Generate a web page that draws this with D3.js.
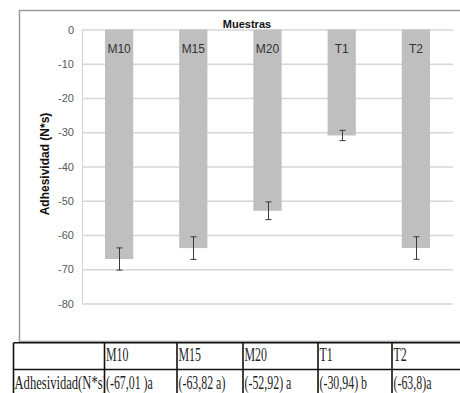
<!DOCTYPE html>
<html>
<head>
<meta charset="utf-8">
<title>Adhesividad</title>
<style>
  body { margin: 0; background: #fff; }
  .tick text { font-family: "Liberation Sans", Arial, sans-serif; font-size: 11px; fill: #595959; }
  .grid line { stroke: #d6d6d6; stroke-width: 1.5px; }
  .grid .domain { stroke: #d6d6d6; stroke-width: 1.2px; }
  .barlabel { font-family: "Liberation Sans", Arial, sans-serif; font-size: 12px; fill: #333; text-anchor: middle; }
  .title { font-family: "Liberation Sans", Arial, sans-serif; font-size: 11px; font-weight: bold; fill: #111; }
  .ytitle { font-family: "Liberation Sans", Arial, sans-serif; font-size: 12px; font-weight: bold; fill: #111; }
  .cell { font-family: "Liberation Serif", "Times New Roman", serif; font-size: 18px; fill: #222; }
  .tline { stroke: #111; stroke-width: 1.6px; }
</style>
</head>
<body>
<svg width="460" height="393"></svg>
<script src="https://d3js.org/d3.v7.min.js"></script>
<script>
// data
var categories = ["M10", "M15", "M20", "T1", "T2"];
var values = [-67.01, -63.82, -52.92, -30.94, -63.8];
var errors = [3.25, 3.3, 2.6, 1.5, 3.3];
var yTicks = [0, -10, -20, -30, -40, -50, -60, -70, -80];
var rowLabel = "Adhesividad(N*s)";
var cellLabels = ["(-67,01 )a", "(-63,82 a)", "(-52,92) a", "(-30,94) b", "(-63,8)a"];

var svg = d3.select("svg");

// chart frame
svg.append("rect")
  .attr("x", 19.5).attr("y", 10.5)
  .attr("width", 460).attr("height", 331)
  .attr("fill", "#fff")
  .attr("stroke", "#9a9a9a")
  .attr("stroke-width", 1.5);

var x = d3.scaleBand()
  .domain(categories)
  .range([82, 453])
  .paddingInner(0.62)
  .paddingOuter(0.31);

var y = d3.scaleLinear()
  .domain([-80, 0])
  .range([303.5, 29.5]);

// gridlines + tick labels (plain hyphen like the original)
var yAxis = svg.append("g")
  .attr("class", "grid")
  .attr("transform", "translate(82,0)")
  .call(d3.axisLeft(y).tickValues(yTicks).tickSize(-371).tickPadding(8)
    .tickFormat(function(d) { return String(d); }));
yAxis.select(".domain").attr("d", "M0.5," + y(-80) + "V" + y(0));

// bars
svg.append("g").selectAll("rect")
  .data(categories)
  .enter().append("rect")
  .attr("x", function(d) { return x(d); })
  .attr("y", y(0))
  .attr("width", x.bandwidth())
  .attr("height", function(d, i) { return y(values[i]) - y(0); })
  .attr("fill", "#bfbfbf");

// error bars
var eb = svg.append("g").attr("stroke", "#3a3a3a").attr("stroke-width", 1);
categories.forEach(function(d, i) {
  var cx = Math.round(x(d) + x.bandwidth() / 2) + 0.5;
  var y1 = y(values[i] + errors[i]), y2 = y(values[i] - errors[i]);
  eb.append("line").attr("x1", cx).attr("x2", cx).attr("y1", y1).attr("y2", y2);
  eb.append("line").attr("x1", cx - 3).attr("x2", cx + 3).attr("y1", y1).attr("y2", y1);
  eb.append("line").attr("x1", cx - 3).attr("x2", cx + 3).attr("y1", y2).attr("y2", y2);
});

// labels in bars
svg.append("g").selectAll("text")
  .data(categories)
  .enter().append("text")
  .attr("class", "barlabel")
  .attr("x", function(d) { return x(d) + x.bandwidth() / 2; })
  .attr("y", 53)
  .text(function(d) { return d; });

svg.append("text")
  .attr("class", "title")
  .attr("x", 247).attr("y", 27.5)
  .attr("text-anchor", "middle")
  .text("Muestras");

svg.append("text")
  .attr("class", "ytitle")
  .attr("transform", "translate(49,164) rotate(-90)")
  .attr("text-anchor", "middle")
  .text("Adhesividad (N*s)");

// table below
var colEdges = [13.5, 104.5, 177, 243, 318, 392, 470];
var rowEdges = [342.8, 369.5, 400];
var tbl = svg.append("g");

svg.append("clipPath").attr("id", "c0")
  .append("rect").attr("x", colEdges[0]).attr("y", rowEdges[1])
  .attr("width", colEdges[1] - colEdges[0] - 1).attr("height", 40);

tbl.append("g")
  .attr("clip-path", "url(#c0)")
  .append("text")
  .attr("class", "cell")
  .attr("transform", "translate(" + (colEdges[0] + 1) + ",389) scale(0.7,1)")
  .text(rowLabel);

categories.forEach(function(d, i) {
  tbl.append("text")
    .attr("class", "cell")
    .attr("transform", "translate(" + (colEdges[i + 1] + 1.5) + ",361) scale(0.66,1)")
    .text(d);
  tbl.append("text")
    .attr("class", "cell")
    .attr("transform", "translate(" + (colEdges[i + 1] + 1.5) + ",389) scale(0.66,1)")
    .text(cellLabels[i]);
});

rowEdges.slice(0, 2).forEach(function(ry) {
  tbl.append("line").attr("class", "tline")
    .attr("x1", colEdges[0]).attr("x2", 460).attr("y1", ry).attr("y2", ry);
});
colEdges.slice(0, 6).forEach(function(cx) {
  tbl.append("line").attr("class", "tline")
    .attr("x1", cx).attr("x2", cx).attr("y1", rowEdges[0]).attr("y2", 393);
});
</script>
</body>
</html>
